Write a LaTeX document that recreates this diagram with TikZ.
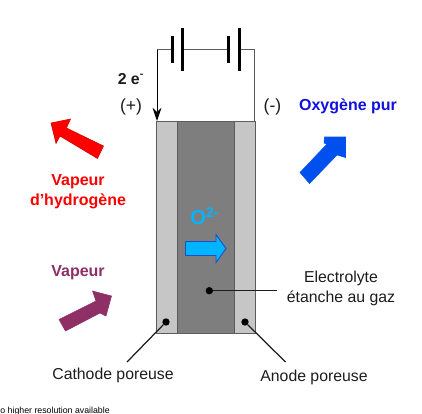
\documentclass[tikz,border=0pt]{standalone}
\usepackage{fontspec}
\setmainfont{Liberation Sans}
\usetikzlibrary{arrows.meta,positioning}
\definecolor{Porc}{HTML}{C6C6C6}
\definecolor{Elc}{HTML}{7E7E7E}
\definecolor{Edgec}{HTML}{5C5C5C}
\definecolor{Hc}{HTML}{FF0000}
\definecolor{Vc}{HTML}{8E2F66}
\definecolor{Oc}{HTML}{0050F0}
\definecolor{Oltc}{HTML}{1010E0}
\definecolor{Ionc}{HTML}{00B4FF}
\definecolor{Ionl}{HTML}{1C50C8}
\definecolor{Txtc}{HTML}{1C1C1C}
\tikzset{
  label/.style={font=\fontsize{9}{11}\selectfont, text=Txtc, align=center, inner sep=0pt},
  gaslabel/.style={font=\fontsize{9.1}{11.2}\selectfont\bfseries, align=center, inner sep=0pt},
  pindot/.style={circle, fill=black, inner sep=0pt, minimum size=4.2pt},
  leader/.style={line width=0.7pt, draw=Txtc},
  wire/.style={line width=0.45pt, draw=Edgec},
  plate/.style={line width=1.6pt, draw=black},
  layer/.style={draw=Edgec, line width=0.5pt},
}
\begin{document}
\begin{tikzpicture}[x=0.02cm,y=-0.02cm]
  \useasboundingbox (0,0) rectangle (422,413);
  % cell
  \draw[layer, fill=Porc] (156,121) rectangle (255,333);
  \draw[layer, fill=Elc] (177,121) rectangle (234,333);
  % battery
  \coordinate (wireL) at (157,49.5);
  \coordinate (wireR) at (254,49.5);
  \coordinate (cellL) at (157,121);
  \coordinate (cellR) at (254,121);
  \draw[wire] (wireL) -- (172,49.5);
  \draw[wire] (182,49.5) -- (228,49.5);
  \draw[wire] (239,49.5) -- (wireR) -- (cellR);
  \draw[line width=0.45pt, draw=black, -{Stealth[length=7.5pt,width=5pt]}] (wireL) -- (cellL);
  \draw[plate] (172.5,36) -- (172.5,63);
  \draw[plate] (182.5,28) -- (182.5,71);
  \draw[plate] (228.5,36) -- (228.5,63);
  \draw[plate] (239.5,28) -- (239.5,71);
  \node[label, font=\fontsize{9}{11}\selectfont\bfseries] (charge) at (131,79) {2 e\textsuperscript{-}};
  \node[label, font=\fontsize{10}{12}\selectfont] (plus) at (131,107) {(+)};
  \node[label, font=\fontsize{10}{12}\selectfont] (minus) at (272.5,107) {(-)};
  % gas arrows
  \draw[draw=Hc!80!black, line width=0.3pt, fill=Hc] (51,123) -- (70.5,119) -- (66.5,128) -- (103.5,146) -- (97.5,158.5) -- (60,136) -- (56,143.5) -- cycle;
  \draw[draw=Vc, line width=0.3pt, fill=Vc] (59,319.5) -- (96,301) -- (92.5,291) -- (111.5,296) -- (106,316) -- (100,313) -- (65.5,331) -- cycle;
  \draw[draw=Oc, line width=0.3pt, fill=Oc] (300,172.5) -- (327,144) -- (324,143) -- (324.5,137) -- (345.5,137) -- (345.5,157.5) -- (337,155) -- (309.5,183.5) -- cycle;
  \draw[draw=Ionl, line width=0.5pt, fill=Ionc] (185.5,241.5) -- (216,241.5) -- (216,234.5) -- (226,248.5) -- (216,262.5) -- (216,255.5) -- (185.5,255.5) -- cycle;
  \node[gaslabel, text=Hc] (hydro) at (78,191.5) {Vapeur\\d'hydrogène};
  \node[gaslabel, text=Vc] (steam) at (78,273) {Vapeur};
  \node[gaslabel, text=Oltc] (oxy) at (348,106) {Oxygène pur};
  \node[gaslabel, text=Ionc, font=\fontsize{11.5}{13}\selectfont\bfseries] (ion) at (205,216) {O\textsuperscript{2-}};
  % leaders
  \node[pindot] (catdot) at (166,322) {};
  \node[pindot] (anodot) at (245,322) {};
  \node[pindot] (eldot) at (209.3,290.7) {};
  \coordinate (catend) at (127,362);
  \coordinate (anoend) at (285.5,362);
  \coordinate (elend) at (277,290.7);
  \draw[leader] (catdot) -- (catend);
  \draw[leader] (anodot) -- (anoend);
  \draw[leader] (eldot) -- (elend);
  \node[label] (electro) at (341,288.5) {Electrolyte\\étanche au gaz};
  \node[label] (cathode) at (113,375) {Cathode poreuse};
  \node[label] (anode) at (314,377) {Anode poreuse};
  \node[anchor=base west, inner sep=0pt, font=\fontsize{5}{6}\selectfont, text=black] (note) at (0,413) {o higher resolution available};
\end{tikzpicture}
\end{document}
